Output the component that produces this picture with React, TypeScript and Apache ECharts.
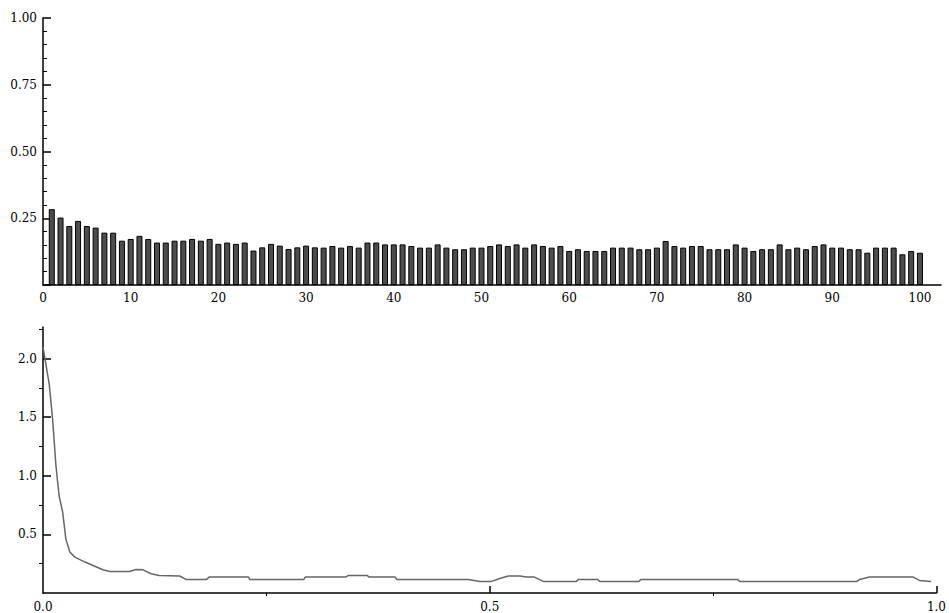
import React, { useEffect, useRef } from "react";
import * as echarts from "echarts";

// Top chart: bar values for index 1..100
const barValues: number[] = [
  0.284, 0.2525, 0.221, 0.24, 0.221, 0.215, 0.196, 0.196, 0.166, 0.1725,
  0.184, 0.1725, 0.159, 0.159, 0.166, 0.166, 0.1725, 0.166, 0.1725, 0.154,
  0.159, 0.154, 0.159, 0.129, 0.141, 0.154, 0.1475, 0.135, 0.141, 0.1475,
  0.141, 0.14, 0.146, 0.14, 0.146, 0.14, 0.159, 0.159, 0.152, 0.152,
  0.152, 0.146, 0.14, 0.14, 0.152, 0.14, 0.134, 0.134, 0.14, 0.14,
  0.146, 0.152, 0.146, 0.152, 0.14, 0.152, 0.146, 0.14, 0.146, 0.1275,
  0.134, 0.1275, 0.1275, 0.1275, 0.14, 0.14, 0.14, 0.134, 0.134, 0.14,
  0.165, 0.146, 0.14, 0.146, 0.146, 0.134, 0.134, 0.134, 0.152, 0.14,
  0.1275, 0.134, 0.134, 0.152, 0.134, 0.14, 0.134, 0.146, 0.152, 0.14,
  0.14, 0.134, 0.134, 0.121, 0.14, 0.14, 0.14, 0.115, 0.1275, 0.121,
];
const barIndex: number[] = barValues.map((_, i) => i + 1);
const topXLabels: number[] = [0, 10, 20, 30, 40, 50, 60, 70, 80, 90, 100];
const topYLabels: number[] = [0.25, 0.5, 0.75, 1.0];

// Bottom chart: curve
const lineX: number[] = [
  0.0, 0.007, 0.0108, 0.0145, 0.018, 0.022, 0.0256, 0.03, 0.0357, 0.047,
  0.056, 0.067, 0.0747, 0.097, 0.104, 0.112, 0.121, 0.13, 0.153, 0.16,
  0.183, 0.186, 0.23, 0.2315, 0.292, 0.2935, 0.3386, 0.342, 0.3627, 0.365,
  0.394, 0.396, 0.476, 0.489, 0.502, 0.513, 0.521, 0.534, 0.541, 0.55,
  0.56, 0.597, 0.599, 0.621, 0.623, 0.667, 0.669, 0.777, 0.78, 0.911,
  0.914, 0.925, 0.974, 0.981, 0.994,
];
const lineY: number[] = [
  2.1, 1.78, 1.48, 1.085, 0.83, 0.69, 0.46, 0.35, 0.306, 0.264,
  0.235, 0.198, 0.184, 0.184, 0.2, 0.198, 0.164, 0.15, 0.145, 0.116,
  0.116, 0.136, 0.136, 0.116, 0.116, 0.136, 0.136, 0.15, 0.15, 0.136,
  0.136, 0.116, 0.116, 0.099, 0.099, 0.128, 0.145, 0.145, 0.136, 0.136,
  0.099, 0.099, 0.116, 0.116, 0.099, 0.099, 0.116, 0.116, 0.099, 0.099,
  0.116, 0.136, 0.136, 0.107, 0.099,
];
const bottomXLabels: number[] = [0, 0.5, 1.0];
const bottomYLabels: number[] = [0.5, 1.0, 1.5, 2.0];

const FONT = "DejaVu Serif";
const labelStyle = { color: "#000", fontFamily: FONT, fontSize: 12 };
const axisLine = { show: true, lineStyle: { color: "#000", width: 1.5 } };

export default function App() {
  const ref = useRef<HTMLDivElement>(null);
  useEffect(() => {
    if (!ref.current) return;
    const chart = echarts.init(ref.current, null, { renderer: "svg" });
    chart.setOption({
      animation: false,
      backgroundColor: "#fff",
      grid: [
        { left: 43, top: 18, width: 898, height: 267 },
        { left: 43, top: 327, width: 897, height: 267 },
      ],
      xAxis: [
        {
          type: "value",
          gridIndex: 0,
          min: 0,
          max: 102.4,
          axisLine,
          axisTick: { show: false },
          splitLine: { show: false },
          axisLabel: {
            ...labelStyle,
            margin: 7,
            customValues: topXLabels,
            formatter: (v: number) => String(v),
          },
        },
        {
          type: "value",
          gridIndex: 1,
          min: 0,
          max: 1,
          axisLine,
          axisTick: {
            inside: true,
            length: 7,
            lineStyle: { color: "#000", width: 1.5 },
            customValues: [0.5, 1.0],
          },
          splitLine: { show: false },
          axisLabel: {
            ...labelStyle,
            margin: 8,
            customValues: bottomXLabels,
            formatter: (v: number) => v.toFixed(1),
          },
        },
        {
          type: "value",
          gridIndex: 1,
          min: 0,
          max: 1,
          axisLine: { show: false },
          axisTick: {
            inside: true,
            length: 3,
            lineStyle: { color: "#000", width: 1 },
            customValues: [0.25, 0.75],
          },
          splitLine: { show: false },
          axisLabel: { show: false },
        },
      ],
      yAxis: [
        {
          type: "value",
          gridIndex: 0,
          min: 0,
          max: 1,
          interval: 0.25,
          axisLine,
          axisTick: {
            show: true,
            inside: true,
            length: 8,
            lineStyle: { color: "#000", width: 1.5 },
          },
          minorTick: {
            show: true,
            splitNumber: 5,
            length: 4,
            lineStyle: { color: "#000", width: 1 },
          },
          splitLine: { show: false },
          axisLabel: {
            ...labelStyle,
            margin: 6,
            customValues: topYLabels,
            formatter: (v: number) => v.toFixed(2),
          },
        },
        {
          type: "value",
          gridIndex: 1,
          min: 0,
          max: 2.27,
          axisLine,
          axisTick: {
            show: true,
            inside: true,
            length: 8,
            lineStyle: { color: "#000", width: 1.5 },
            customValues: [0.5, 1.0, 1.5, 2.0],
          },
          splitLine: { show: false },
          axisLabel: {
            ...labelStyle,
            margin: 6,
            customValues: bottomYLabels,
            formatter: (v: number) => v.toFixed(1),
          },
        },
        {
          type: "value",
          gridIndex: 1,
          min: 0,
          max: 2.27,
          axisLine: { show: false },
          axisTick: {
            show: true,
            inside: true,
            length: 4,
            lineStyle: { color: "#000", width: 1 },
            customValues: [0.25, 0.75, 1.25, 1.75, 2.25],
          },
          splitLine: { show: false },
          axisLabel: { show: false },
        },
      ],
      series: [
        {
          type: "bar",
          xAxisIndex: 0,
          yAxisIndex: 0,
          barWidth: 6,
          itemStyle: { color: "#4d4d4d", borderColor: "#000", borderWidth: 1 },
          data: barIndex.map((x, i) => [x, barValues[i]]),
        },
        {
          type: "line",
          xAxisIndex: 1,
          yAxisIndex: 1,
          showSymbol: false,
          lineStyle: { color: "#666", width: 1.5 },
          data: lineX.map((x, i) => [x, lineY[i]]),
        },
      ],
    });
    return () => chart.dispose();
  }, []);
  return (
    <div
      ref={ref}
      style={{ position: "fixed", left: 0, top: 0, width: 949, height: 613, background: "#fff" }}
    />
  );
}
